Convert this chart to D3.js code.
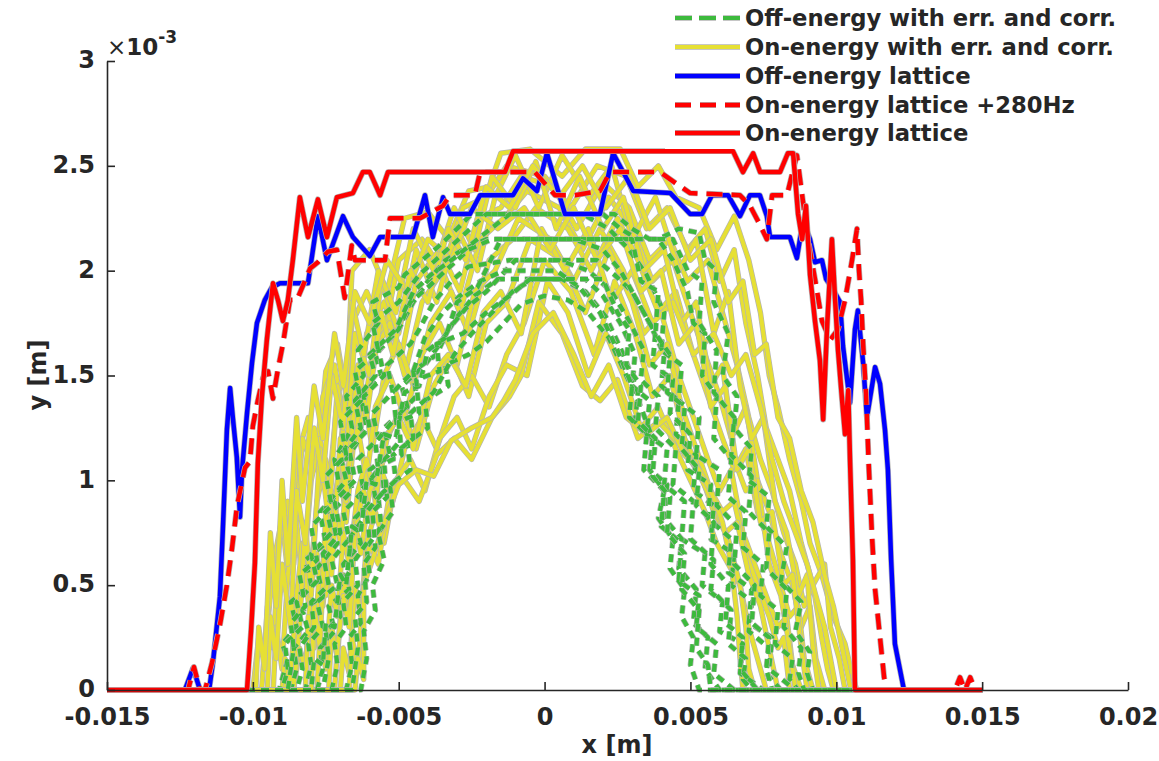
<!DOCTYPE html>
<html>
<head>
<meta charset="utf-8">
<script src="https://cdn.jsdelivr.net/npm/d3@7"></script>
<style>
  html, body { margin: 0; padding: 0; background: #fff; }
  svg text { font-family: "DejaVu Sans", sans-serif; font-weight: bold; fill: #262626; }
</style>
</head>
<body>
<svg id="chart" width="1159" height="761"></svg>
<script>
//Data (all values in mm, axis shows metres)
const xTicks = [-15, -10, -5, 0, 5, 10, 15, 20];
const xTickLabels = ['-0.015', '-0.01', '-0.005', '0', '0.005', '0.01', '0.015', '0.02'];
const yTicks = [0, 0.5, 1, 1.5, 2, 2.5, 3];
const yTickLabels = ['0', '0.5', '1', '1.5', '2', '2.5', '3'];
const SCAN_LIMIT = 15; // rays scanned out to +-15 mm at y = 0

const seriesNames = [
  'Off-energy with err. and corr.',
  'On-energy with err. and corr.',
  'Off-energy lattice',
  'On-energy lattice +280Hz',
  'On-energy lattice'
];

// Off-energy, with errors and correction (one array per seed)
const offEnergyErr = [
  [[-9.1,0],[-8.8,0.15],[-9.0,0.22],[-8.5,0.3],[-8.7,0.42],[-8.0,0.5],[-8.2,0.62],[-7.5,0.7],[-7.7,0.85],[-7.0,0.95],[-7.2,1.1],[-6.6,1.25],[-6.8,1.4],[-6.2,1.5],[-6.4,1.62],[-5.7,1.75],[-5.9,1.85],[-5.0,1.92],[-4.8,1.98],[-4.2,2.05],[-3.6,2.12],[-3.0,2.2],[-2.5,2.27],[2.0,2.27],[2.6,2.2],[3.2,2.15],[3.9,2.15],[4.6,2.2],[5.3,2.18],[5.5,2.05],[5.9,2.0],[5.8,1.85],[6.3,1.7],[6.1,1.5],[6.6,1.4],[6.5,1.25],[7.1,1.15],[7.0,1.0],[7.7,0.92],[7.6,0.78],[8.3,0.68],[8.1,0.52],[8.8,0.42],[8.6,0.28],[9.1,0.18],[9.0,0.08],[9.2,0]],
  [[-8.7,0],[-8.5,0.1],[-8.6,0.2],[-8.1,0.28],[-8.3,0.38],[-7.6,0.45],[-7.8,0.58],[-7.1,0.7],[-7.3,0.85],[-6.6,0.95],[-6.8,1.1],[-6.1,1.25],[-6.3,1.4],[-5.6,1.5],[-5.8,1.6],[-5.0,1.72],[-4.5,1.85],[-4.0,1.95],[-3.4,2.05],[-2.8,2.1],[-2.0,2.15],[3.9,2.15],[4.4,2.05],[4.9,1.9],[5.1,1.75],[5.5,1.7],[5.4,1.5],[5.9,1.4],[5.8,1.2],[6.4,1.1],[6.3,0.92],[6.9,0.85],[6.8,0.68],[7.5,0.6],[7.4,0.45],[8.0,0.38],[7.9,0.22],[8.5,0.15],[8.4,0.05],[8.7,0]],
  [[-8.2,0],[-8.0,0.12],[-8.1,0.22],[-7.6,0.3],[-7.8,0.42],[-7.1,0.5],[-7.3,0.62],[-6.7,0.72],[-6.9,0.85],[-6.2,0.95],[-6.4,1.1],[-5.7,1.2],[-5.9,1.32],[-5.2,1.42],[-5.4,1.55],[-4.6,1.65],[-4.3,1.72],[-3.8,1.85],[-3.2,1.95],[-2.6,2.02],[-1.2,2.05],[1.8,2.05],[2.4,1.98],[3.0,1.9],[3.6,1.75],[4.1,1.6],[4.0,1.45],[4.6,1.38],[4.5,1.22],[5.2,1.12],[5.1,0.95],[5.8,0.88],[5.7,0.72],[6.5,0.65],[6.4,0.5],[7.1,0.42],[7.0,0.28],[7.7,0.2],[7.6,0.08],[8.1,0]],
  [[-7.8,0],[-7.6,0.1],[-7.7,0.2],[-7.2,0.28],[-7.4,0.4],[-6.7,0.48],[-6.9,0.6],[-6.3,0.7],[-6.5,0.82],[-5.8,0.92],[-6.0,1.05],[-5.3,1.12],[-5.5,1.25],[-4.7,1.35],[-4.9,1.45],[-4.1,1.55],[-3.6,1.65],[-3.0,1.78],[-2.4,1.88],[-1.6,1.96],[1.4,1.96],[2.0,1.88],[2.6,1.75],[3.1,1.6],[3.0,1.45],[3.6,1.38],[3.5,1.22],[4.2,1.15],[4.1,0.98],[4.8,0.9],[4.7,0.72],[5.5,0.65],[5.4,0.5],[6.1,0.42],[6.0,0.28],[6.8,0.22],[6.7,0.08],[7.5,0]],
  [[-6.3,0],[-6.1,0.15],[-6.2,0.28],[-5.8,0.38],[-5.9,0.5],[-5.5,0.62],[-5.7,0.75],[-5.2,0.85],[-5.3,0.98],[-4.6,1.05],[-4.7,1.18],[-4.0,1.25],[-4.1,1.38],[-3.3,1.45],[-3.4,1.55],[-2.6,1.6],[-2.0,1.66],[-1.4,1.75],[-0.8,1.84],[0,1.88],[0.8,1.86],[1.5,1.8],[2.2,1.68],[2.8,1.5],[3.3,1.35],[3.7,1.2],[3.6,1.05],[4.1,0.95],[3.9,0.82],[4.4,0.72],[4.3,0.58],[4.8,0.48],[4.7,0.35],[5.1,0.25],[5.0,0.12],[5.3,0]],
  [[-6.8,0],[-6.6,0.12],[-6.7,0.25],[-6.3,0.32],[-6.4,0.45],[-6.0,0.55],[-6.1,0.68],[-5.6,0.78],[-5.7,0.92],[-5.1,1.0],[-5.2,1.12],[-4.5,1.2],[-4.6,1.32],[-3.8,1.42],[-3.1,1.6],[-2.5,1.7],[-1.8,1.8],[-1.1,1.9],[-0.4,1.96],[0.6,1.96],[1.4,1.9],[2.1,1.78],[2.7,1.6],[3.2,1.42],[3.1,1.28],[3.7,1.2],[3.6,1.05],[4.2,0.98],[4.1,0.82],[4.7,0.72],[4.6,0.58],[5.2,0.48],[5.1,0.32],[5.6,0.25],[5.5,0.1],[6.0,0]],
  [[-7.3,0],[-7.1,0.12],[-7.2,0.22],[-6.8,0.3],[-6.9,0.42],[-6.4,0.5],[-6.5,0.62],[-6.0,0.72],[-6.1,0.85],[-5.5,0.95],[-5.6,1.08],[-5.0,1.18],[-5.1,1.3],[-4.4,1.4],[-4.5,1.52],[-3.7,1.6],[-3.3,1.72],[-2.7,1.82],[-2.0,1.9],[-1.0,2.05],[0.5,2.05],[1.5,2.0],[2.3,1.9],[2.9,1.76],[3.4,1.62],[3.3,1.48],[3.9,1.4],[3.8,1.25],[4.5,1.15],[4.4,0.98],[5.1,0.9],[5.0,0.72],[5.8,0.62],[5.7,0.48],[6.4,0.38],[6.3,0.22],[6.9,0.15],[6.8,0.05],[7.1,0]],
  [[-8.5,0],[-8.3,0.1],[-8.4,0.2],[-7.9,0.3],[-8.0,0.42],[-7.4,0.5],[-7.6,0.65],[-7.0,0.75],[-7.2,0.9],[-6.5,1.0],[-6.7,1.15],[-6.0,1.25],[-6.2,1.4],[-5.5,1.5],[-5.7,1.62],[-5.0,1.72],[-4.6,1.85],[-4.0,1.92],[-3.4,2.0],[-2.6,2.1],[-1.8,2.15],[1.0,2.15],[2.0,2.1],[2.6,2.0],[3.2,1.85],[3.8,1.7],[3.7,1.55],[4.4,1.48],[4.3,1.32],[5.0,1.22],[4.9,1.05],[5.7,0.98],[5.6,0.82],[6.4,0.72],[6.3,0.56],[7.1,0.48],[7.0,0.32],[7.8,0.25],[7.7,0.1],[8.6,0]],
  [[-7.6,0],[-7.4,0.15],[-7.5,0.28],[-7.0,0.35],[-7.1,0.48],[-6.6,0.58],[-6.7,0.72],[-6.2,0.82],[-6.3,0.95],[-5.7,1.05],[-5.8,1.18],[-5.1,1.3],[-5.2,1.42],[-4.5,1.52],[-4.1,1.68],[-3.5,1.8],[-2.9,1.88],[-2.2,1.95],[-1.4,2.0],[0.4,2.0],[1.2,1.92],[1.9,1.8],[2.5,1.62],[3.0,1.45],[2.9,1.3],[3.5,1.22],[3.4,1.05],[4.1,0.95],[4.0,0.78],[4.7,0.7],[4.6,0.52],[5.3,0.45],[5.2,0.3],[5.9,0.22],[5.8,0.08],[6.5,0]],
  [[-9.0,0],[-8.8,0.1],[-8.9,0.22],[-8.3,0.3],[-8.5,0.42],[-7.8,0.52],[-8.0,0.65],[-7.3,0.75],[-7.5,0.88],[-6.8,1.0],[-7.0,1.12],[-6.3,1.25],[-6.5,1.38],[-5.8,1.5],[-6.0,1.6],[-5.1,1.72],[-4.5,1.9],[-3.9,1.98],[-3.1,2.06],[-2.3,2.15],[-1.2,2.27],[1.3,2.27],[2.2,2.2],[2.9,2.1],[3.5,1.98],[4.1,1.8],[4.0,1.62],[4.7,1.55],[4.6,1.38],[5.3,1.3],[5.2,1.12],[6.0,1.05],[5.9,0.88],[6.6,0.78],[6.5,0.6],[7.2,0.5],[7.1,0.32],[7.7,0.25],[7.6,0.1],[7.8,0]],
  [[-8.0,0],[-7.9,0.15],[-7.6,0.12],[-7.5,0.32],[-7.2,0.3],[-7.0,0.55],[-6.8,0.5],[-6.6,0.78],[-6.3,0.75],[-6.1,1.0],[-5.8,0.98],[-5.5,1.22],[-5.1,1.2],[-4.8,1.42],[-4.3,1.45],[-4.0,1.62],[-3.4,1.68],[-3.0,1.85],[-2.3,1.92],[-1.5,2.15],[3.0,2.15],[3.3,1.95],[3.9,1.9],[3.8,1.7],[4.3,1.6],[4.2,1.42],[4.8,1.35],[4.7,1.15],[5.3,1.05],[5.2,0.88],[5.8,0.8],[5.7,0.6],[6.3,0.5],[6.2,0.32],[6.8,0.25],[6.7,0.1],[7.3,0]],
  [[-6.6,0],[-6.4,0.2],[-6.5,0.35],[-6.1,0.42],[-6.2,0.6],[-5.8,0.68],[-5.9,0.85],[-5.4,0.92],[-5.5,1.08],[-4.9,1.12],[-5.0,1.28],[-4.3,1.32],[-4.4,1.48],[-3.6,1.52],[-3.7,1.65],[-2.8,1.7],[-2.0,1.8],[-1.2,1.88],[-0.5,1.96],[2.0,1.96],[2.5,1.8],[2.9,1.72],[2.8,1.55],[3.3,1.45],[3.2,1.28],[3.8,1.2],[3.7,1.02],[4.3,0.92],[4.2,0.75],[4.8,0.65],[4.7,0.48],[5.3,0.38],[5.2,0.2],[5.6,0.12],[5.7,0]],
  [[-8.8,0],[-8.6,0.2],[-8.7,0.32],[-8.2,0.4],[-8.4,0.55],[-7.8,0.62],[-8.0,0.78],[-7.3,0.88],[-7.5,1.02],[-6.8,1.12],[-7.0,1.28],[-6.3,1.38],[-6.5,1.52],[-5.7,1.62],[-5.9,1.75],[-5.0,1.85],[-4.3,1.98],[-3.5,2.08],[-2.7,2.18],[-2.0,2.27],[2.4,2.27],[3.0,2.2],[3.6,2.15],[4.4,2.15],[4.9,2.0],[5.4,1.95],[5.3,1.75],[5.9,1.62],[5.8,1.42],[6.5,1.3],[6.4,1.12],[7.1,1.02],[7.0,0.85],[7.7,0.75],[7.6,0.58],[8.3,0.48],[8.2,0.3],[8.8,0.2],[8.7,0.08],[8.9,0]]
];

// On-energy, with errors and correction (one array per seed)
const onEnergyErr = [
  [[-10.0,0],[-9.8,0.25],[-9.6,0.15],[-9.3,0.6],[-9.0,0.82],[-8.8,0.55],[-8.5,1.1],[-8.1,1.3],[-7.8,1.05],[-7.5,1.52],[-7.1,1.65],[-6.8,1.4],[-6.6,2.0],[-6.0,2.1],[-5.4,1.9],[-4.8,2.25],[-4.0,2.28],[-3.3,2.15],[-2.6,2.38],[-1.9,2.4],[-1.5,2.56],[-0.5,2.58],[0.6,2.45],[1.4,2.58],[2.6,2.58],[3.2,2.4],[3.9,2.5],[4.5,2.35],[5.3,2.3],[5.9,2.1],[6.5,2.26],[7.0,2.05],[7.4,1.8],[7.7,1.5],[8.0,1.35],[8.4,1.1],[8.8,0.9],[9.1,0.7],[9.5,0.55],[9.9,0.35],[10.3,0.22],[10.5,0.1],[10.7,0]],
  [[-9.7,0],[-9.5,0.4],[-9.3,0.2],[-9.1,0.7],[-8.8,0.9],[-8.6,0.6],[-8.3,1.2],[-7.9,1.05],[-7.6,1.4],[-7.2,1.55],[-6.9,1.3],[-6.6,1.75],[-6.1,1.9],[-5.5,1.7],[-5.0,2.05],[-4.2,2.15],[-3.5,2.0],[-2.8,2.3],[-2.0,2.35],[-1.3,2.5],[0.0,2.45],[0.9,2.3],[1.8,2.5],[2.8,2.45],[3.5,2.2],[4.2,2.3],[4.9,2.1],[5.5,2.2],[6.0,1.95],[6.5,2.1],[6.9,1.75],[7.3,1.5],[7.6,1.25],[8.0,1.1],[8.4,0.95],[8.8,0.7],[9.2,0.5],[9.6,0.6],[9.8,0.3],[10.1,0.15],[10.3,0]],
  [[-9.3,0],[-9.2,0.3],[-9.0,0.1],[-8.8,0.55],[-8.5,0.8],[-8.3,0.5],[-8.0,1.0],[-7.7,1.2],[-7.4,0.95],[-7.1,1.4],[-6.8,1.55],[-6.4,1.3],[-6.1,1.7],[-5.5,1.85],[-4.9,1.6],[-4.4,1.95],[-3.6,2.1],[-2.9,1.9],[-2.3,2.25],[-1.5,2.3],[-0.8,2.45],[0.3,2.4],[1.1,2.2],[2.0,2.42],[2.9,2.3],[3.6,2.05],[4.3,2.15],[4.9,1.95],[5.6,2.05],[6.1,1.8],[6.6,1.55],[7.0,1.3],[7.4,1.1],[7.8,0.95],[8.2,0.75],[8.6,0.6],[8.9,0.4],[9.2,0.5],[9.5,0.25],[9.7,0.1],[9.9,0]],
  [[-9.0,0],[-8.9,0.15],[-8.7,0.08],[-8.5,0.45],[-8.3,0.7],[-8.1,0.42],[-7.8,0.9],[-7.5,1.1],[-7.2,0.85],[-6.9,1.3],[-6.6,1.5],[-6.3,1.25],[-5.9,1.6],[-5.3,1.75],[-4.8,1.5],[-4.2,1.85],[-3.5,2.0],[-2.9,1.8],[-2.2,2.15],[-1.4,2.25],[-0.6,2.38],[0.5,2.3],[1.3,2.1],[2.2,2.35],[3.0,2.2],[3.7,1.95],[4.4,2.05],[5.0,1.8],[5.5,1.6],[6.0,1.4],[6.4,1.2],[6.9,1.35],[7.3,1.0],[7.7,0.85],[8.1,0.65],[8.5,0.5],[8.8,0.3],[9.1,0.4],[9.3,0.15],[9.6,0]],
  [[-8.6,0],[-8.4,0.2],[-8.2,0.1],[-8.0,0.5],[-7.8,0.65],[-7.6,0.4],[-7.3,0.85],[-7.0,1.05],[-6.8,0.8],[-6.5,1.25],[-6.2,1.4],[-5.9,1.15],[-5.5,1.5],[-5.0,1.65],[-4.5,1.45],[-3.9,1.75],[-3.2,1.9],[-2.6,1.7],[-1.9,2.05],[-1.1,2.15],[-0.3,2.3],[0.8,2.2],[1.6,2.0],[2.5,2.25],[3.2,2.05],[3.9,1.8],[4.5,1.9],[5.1,1.6],[5.6,1.4],[6.1,1.2],[6.5,1.05],[6.9,1.15],[7.3,0.85],[7.7,0.7],[8.1,0.5],[8.4,0.35],[8.7,0.4],[8.9,0.15],[9.2,0]],
  [[-8.2,0],[-8.1,0.35],[-7.9,0.2],[-7.7,0.6],[-7.5,0.45],[-7.2,0.9],[-7.0,0.7],[-6.7,1.1],[-6.4,1.25],[-6.1,1.0],[-5.8,1.35],[-5.3,1.5],[-4.8,1.3],[-4.2,1.6],[-3.6,1.75],[-3.0,1.55],[-2.4,1.9],[-1.7,2.0],[-0.9,2.25],[0.2,2.15],[1.0,1.95],[1.9,2.2],[2.7,2.0],[3.4,1.7],[4.0,1.8],[4.6,1.5],[5.1,1.3],[5.6,1.1],[6.0,0.95],[6.4,1.05],[6.8,0.75],[7.2,0.6],[7.6,0.45],[8.0,0.3],[8.3,0.35],[8.5,0.12],[8.8,0]],
  [[-7.8,0],[-7.7,0.25],[-7.5,0.1],[-7.3,0.5],[-7.1,0.35],[-6.9,0.75],[-6.7,0.6],[-6.4,0.95],[-6.1,1.1],[-5.8,0.9],[-5.4,1.2],[-4.9,1.35],[-4.4,1.15],[-3.8,1.45],[-3.2,1.6],[-2.6,1.4],[-2.0,1.75],[-1.3,1.85],[-0.5,2.15],[0.6,2.05],[1.4,1.8],[2.2,2.1],[3.0,1.85],[3.6,1.55],[4.2,1.65],[4.7,1.35],[5.2,1.15],[5.7,0.95],[6.1,0.85],[6.5,0.9],[6.9,0.65],[7.3,0.5],[7.7,0.35],[8.0,0.2],[8.2,0.25],[8.4,0]],
  [[-7.4,0],[-7.3,0.3],[-7.1,0.15],[-6.9,0.55],[-6.7,0.4],[-6.5,0.8],[-6.3,0.65],[-6.0,0.95],[-5.6,1.05],[-5.2,0.9],[-4.8,1.15],[-4.2,1.3],[-3.7,1.15],[-3.1,1.4],[-2.5,1.5],[-1.9,1.35],[-1.3,1.6],[-0.7,1.75],[0.0,2.05],[0.9,1.9],[1.7,1.6],[2.4,1.95],[3.1,1.7],[3.7,1.4],[4.3,1.5],[4.8,1.2],[5.3,1.05],[5.8,0.85],[6.2,0.75],[6.6,0.8],[7.0,0.55],[7.4,0.4],[7.7,0.2],[8.0,0]],
  [[-7.0,0],[-6.9,0.2],[-6.7,0.08],[-6.5,0.5],[-6.3,0.35],[-6.1,0.7],[-5.8,0.85],[-5.5,0.7],[-5.1,1.0],[-4.6,1.1],[-4.1,0.95],[-3.6,1.2],[-3.0,1.3],[-2.5,1.15],[-1.9,1.4],[-1.3,1.55],[-0.6,1.5],[0.1,1.95],[0.8,1.8],[1.5,1.5],[2.1,1.7],[2.7,1.5],[3.3,1.25],[3.9,1.35],[4.5,1.15],[5.0,1.0],[5.5,0.85],[5.9,0.7],[6.3,0.6],[6.7,0.5],[7.0,0.3],[7.3,0.15],[7.6,0]],
  [[-6.7,0],[-6.6,0.25],[-6.4,0.1],[-6.2,0.5],[-6.0,0.7],[-5.7,0.6],[-5.3,0.95],[-4.8,1.0],[-4.3,0.9],[-3.7,1.12],[-3.1,1.2],[-2.5,1.1],[-1.8,1.3],[-1.2,1.4],[-0.8,1.5],[-0.2,1.85],[0.6,1.7],[1.3,1.45],[1.9,1.38],[2.5,1.48],[3.2,1.2],[3.9,1.28],[4.8,1.15],[5.4,1.0],[5.9,0.85],[6.3,0.72],[6.7,0.5],[6.9,0.3],[7.0,0.1],[7.2,0]],
  [[-6.5,0],[-6.4,0.15],[-6.2,0.05],[-6.2,0.5],[-5.9,0.62],[-5.5,0.8],[-5.0,0.98],[-4.4,1.05],[-3.8,1.02],[-3.2,1.19],[-2.5,1.25],[-1.8,1.3],[-1.4,1.38],[-1.0,1.48],[-0.4,1.7],[0.3,1.8],[1.0,1.6],[1.6,1.4],[2.2,1.55],[2.8,1.3],[3.5,1.22],[4.2,1.3],[4.8,1.12],[5.3,1.05],[5.7,0.95],[6.1,0.8],[6.4,0.6],[6.6,0.35],[6.7,0.15],[6.8,0]],
  [[-8.9,0],[-8.8,0.1],[-8.6,0.0],[-8.4,0.3],[-8.2,0.8],[-8.0,0.45],[-7.7,1.15],[-7.4,0.8],[-7.1,1.45],[-6.8,1.1],[-6.5,1.7],[-6.0,1.5],[-5.6,1.95],[-5.0,1.7],[-4.4,2.1],[-3.7,1.85],[-3.0,2.2],[-2.3,2.0],[-1.7,2.35],[-1.0,2.55],[-0.2,2.3],[0.6,2.55],[1.5,2.35],[2.3,2.5],[3.0,2.15],[3.8,2.35],[4.6,2.0],[5.2,2.15],[5.8,1.7],[6.3,1.9],[6.7,1.45],[7.1,1.2],[7.5,1.3],[7.9,0.9],[8.3,0.75],[8.7,0.45],[9.0,0.55],[9.2,0.2],[9.4,0]],
  [[-9.5,0],[-9.4,0.35],[-9.2,0.15],[-9.0,0.6],[-8.7,0.3],[-8.5,0.95],[-8.2,0.7],[-7.9,1.25],[-7.6,1.0],[-7.3,1.5],[-6.9,1.25],[-6.6,1.85],[-6.2,1.6],[-5.7,2.0],[-5.1,1.8],[-4.5,2.2],[-3.8,2.0],[-3.1,2.3],[-2.4,2.1],[-1.8,2.45],[-1.0,2.3],[-0.3,2.52],[0.4,2.2],[1.2,2.45],[2.0,2.2],[2.7,2.35],[3.4,2.0],[4.1,2.1],[4.7,1.75],[5.2,1.85],[5.7,1.45],[6.1,1.55],[6.5,1.1],[6.9,0.95],[7.3,1.0],[7.7,0.6],[8.1,0.45],[8.4,0.2],[8.6,0]],
  [[-7.2,0],[-7.1,0.2],[-6.9,0.45],[-6.7,0.3],[-6.5,0.75],[-6.2,0.95],[-5.9,0.8],[-5.5,1.2],[-5.0,1.3],[-4.5,1.15],[-3.9,1.5],[-3.3,1.6],[-2.7,1.45],[-2.1,1.8],[-1.5,1.9],[-0.8,1.7],[-0.1,2.2],[0.7,2.0],[1.5,2.2],[2.3,1.85],[3.0,2.0],[3.7,1.75],[4.4,1.85],[5.1,1.6],[5.8,1.7],[6.4,1.5],[6.9,1.6],[7.4,1.35],[7.8,1.1],[8.2,0.9],[8.6,0.75],[9.0,0.6],[9.3,0.45],[9.6,0.3],[9.8,0.15],[10.0,0]],
  [[-9.9,0],[-9.8,0.3],[-9.6,0.1],[-9.4,0.75],[-9.2,0.4],[-9.0,1.0],[-8.8,0.6],[-8.5,1.3],[-8.3,0.9],[-7.9,1.45],[-7.6,1.2],[-7.2,1.7],[-6.9,1.45],[-6.5,1.9],[-6.0,1.75],[-5.4,2.05],[-4.7,1.9],[-4.0,2.15],[-3.2,2.05],[-2.5,2.3],[-1.6,2.2],[-0.7,2.3],[0.2,2.1],[1.0,2.3],[1.8,2.05],[2.6,2.2],[3.3,1.9],[4.0,2.0],[4.6,1.65],[5.2,1.75],[5.7,1.35],[6.2,1.45],[6.6,1.05],[7.0,1.15],[7.4,0.8],[7.8,0.85],[8.2,0.5],[8.5,0.55],[8.8,0.2],[9.0,0]],
  [[-8.0,0],[-7.9,0.4],[-7.7,0.2],[-7.5,0.85],[-7.3,0.55],[-7.0,1.2],[-6.8,0.9],[-6.4,1.55],[-6.1,1.3],[-5.6,1.8],[-5.2,1.6],[-4.6,2.0],[-4.0,1.85],[-3.3,2.2],[-2.7,2.05],[-2.0,2.4],[-1.2,2.3],[-0.4,2.5],[0.5,2.35],[1.3,2.5],[2.1,2.3],[2.9,2.45],[3.6,2.2],[4.3,2.3],[5.0,2.05],[5.7,2.15],[6.3,1.85],[6.8,1.95],[7.2,1.6],[7.6,1.65],[8.0,1.3],[8.4,1.2],[8.8,0.95],[9.2,0.8],[9.6,0.55],[9.9,0.4],[10.2,0.2],[10.5,0]]
];

// Off-energy lattice (no errors)
const offEnergyLattice = [[-15,0],[-12.33,0],[-12.05,0.105],[-11.81,0],[-11.5,0],[-11.37,0.129],[-11.13,0.444],[-11.03,0.763],[-10.96,1.0],[-10.89,1.24],[-10.78,1.44],[-10.68,1.29],[-10.55,1.11],[-10.44,0.825],[-10.37,1.05],[-10.2,1.32],[-10.03,1.56],[-9.86,1.75],[-9.59,1.86],[-9.35,1.92],[-9.07,1.94],[-8.11,1.94],[-7.77,2.26],[-7.46,2.05],[-6.91,2.26],[-6.57,2.16],[-5.99,2.07],[-5.64,2.16],[-4.51,2.16],[-4.1,2.36],[-3.83,2.16],[-3.48,2.35],[-3.24,2.27],[-2.56,2.27],[-2.21,2.36],[-1.08,2.36],[-0.74,2.44],[-0.26,2.38],[0.08,2.56],[0.7,2.27],[1.9,2.27],[2.35,2.56],[3.04,2.38],[4.31,2.37],[4.99,2.27],[5.4,2.27],[5.74,2.36],[6.29,2.36],[6.7,2.26],[7.04,2.36],[7.38,2.36],[7.62,2.26],[7.73,2.16],[8.41,2.16],[8.65,2.06],[8.86,2.24],[9.1,2.15],[9.27,2.04],[9.51,2.05],[9.65,1.96],[9.89,1.91],[10.13,1.85],[10.23,1.64],[10.47,1.37],[10.64,1.72],[10.74,1.81],[10.92,1.56],[11.05,1.3],[11.33,1.54],[11.5,1.46],[11.67,1.24],[11.77,1.05],[11.88,0.62],[12.01,0.22],[12.32,0],[15,0]];

// On-energy lattice with +280 Hz RF shift
const onEnergy280Hz = [[-15,0],[-12.22,0],[-12.02,0.11],[-11.81,0],[-11.64,0],[-11.4,0.13],[-11.13,0.31],[-10.89,0.5],[-10.72,0.67],[-10.54,0.88],[-10.27,1.06],[-10.1,1.09],[-10.0,1.26],[-9.83,1.38],[-9.65,1.49],[-9.48,1.52],[-9.31,1.39],[-9.14,1.53],[-8.97,1.65],[-8.73,1.86],[-8.49,1.86],[-8.28,1.93],[-8.04,2.01],[-7.77,2.04],[-7.43,2.09],[-7.12,2.1],[-6.85,1.87],[-6.61,2.12],[-6.5,2.05],[-5.47,2.05],[-5.3,2.25],[-4.27,2.25],[-3.48,2.31],[-3.24,2.36],[-2.39,2.36],[-2.21,2.47],[-0.33,2.47],[0.36,2.36],[1.04,2.36],[1.9,2.38],[2.24,2.47],[3.96,2.47],[4.57,2.41],[4.99,2.37],[6.7,2.36],[7.04,2.31],[7.38,2.22],[7.62,2.15],[7.8,2.36],[8.31,2.36],[8.52,2.48],[8.65,2.55],[8.83,2.36],[9.03,2.15],[9.27,1.96],[9.51,1.76],[9.79,1.67],[10.06,1.72],[10.3,1.86],[10.54,2.05],[10.71,2.2],[10.78,2.0],[10.85,1.86],[10.92,1.65],[11.02,1.41],[11.12,1.05],[11.23,0.72],[11.33,0.48],[11.47,0.29],[11.64,0.06],[11.74,0],[14.07,0],[14.24,0.06],[14.41,0],[14.59,0.06],[14.76,0],[15,0]];

// On-energy lattice (no errors)
const onEnergyLattice = [[-15,0],[-10.2,0],[-10.06,0.286],[-9.93,0.606],[-9.83,1.08],[-9.69,1.4],[-9.52,1.67],[-9.31,1.94],[-9.14,1.86],[-8.97,1.76],[-8.8,1.86],[-8.63,2.05],[-8.39,2.35],[-8.11,2.16],[-7.77,2.34],[-7.46,2.16],[-7.12,2.35],[-6.57,2.37],[-6.23,2.47],[-5.99,2.47],[-5.64,2.36],[-5.37,2.47],[-1.36,2.47],[-1.08,2.57],[6.46,2.57],[6.8,2.47],[7.15,2.56],[7.39,2.47],[8.07,2.47],[8.34,2.56],[8.52,2.56],[8.69,2.27],[8.83,2.15],[8.96,2.31],[9.1,1.98],[9.27,1.76],[9.44,1.57],[9.55,1.29],[9.68,1.72],[9.85,2.15],[9.96,1.86],[10.06,1.62],[10.2,1.38],[10.3,1.22],[10.41,1.43],[10.47,1.1],[10.57,0.62],[10.64,0],[15,0]];

//Styles
const STYLES = [
  { color: '#3dba3d', width: 4.2, dash: '8,6' },
  { color: '#e6e034', width: 4,   dash: null },
  { color: '#0000ff', width: 4.5, dash: null },
  { color: '#ff0000', width: 4.5, dash: '16,9' },
  { color: '#ff0000', width: 4.5, dash: null }
];
const HALO = '#b4b4b4';
const AXIS_COLOR = '#262626';

//Scales
const svg = d3.select('#chart');
const x = d3.scaleLinear().domain([-15, 20]).range([107, 1128]);
const y = d3.scaleLinear().domain([0, 3]).range([690, 61]);
const line = d3.line().x(d => x(d[0])).y(d => y(d[1]));

// pad seed curves with the flat y = 0 part of the scan
const padScan = pts => [[-SCAN_LIMIT, 0], ...pts, [SCAN_LIMIT, 0]];

const plot = svg.append('g');

const drawCurve = (pts, st) => {
  plot.append('path')
    .attr('d', line(pts))
    .attr('fill', 'none')
    .attr('stroke', HALO)
    .attr('stroke-width', st.width + 1.4)
    .attr('stroke-dasharray', st.dash)
    .attr('stroke-linejoin', 'round');
  plot.append('path')
    .attr('d', line(pts))
    .attr('fill', 'none')
    .attr('stroke', st.color)
    .attr('stroke-width', st.width)
    .attr('stroke-dasharray', st.dash)
    .attr('stroke-linejoin', 'round');
};

// yellow seeds sit underneath the green ones
onEnergyErr.forEach(c => drawCurve(padScan(c), STYLES[1]));
offEnergyErr.forEach(c => drawCurve(padScan(c), STYLES[0]));
drawCurve(offEnergyLattice, STYLES[2]);
drawCurve(onEnergy280Hz, STYLES[3]);
drawCurve(onEnergyLattice, STYLES[4]);

//Axes
const gx = svg.append('g')
  .attr('transform', `translate(0,${y(0)})`)
  .call(d3.axisBottom(x)
    .tickValues(xTicks)
    .tickFormat((d, i) => xTickLabels[i])
    .tickSize(-8).tickSizeOuter(0).tickPadding(18));

const gy = svg.append('g')
  .attr('transform', `translate(${x(-15)},0)`)
  .call(d3.axisLeft(y)
    .tickValues(yTicks)
    .tickFormat((d, i) => yTickLabels[i])
    .tickSize(-8).tickSizeOuter(0).tickPadding(12));

[gx, gy].forEach(g => {
  g.attr('font-size', 24);
  g.select('.domain').attr('stroke', AXIS_COLOR).attr('stroke-width', 1.6);
  g.selectAll('.tick line').attr('stroke', AXIS_COLOR).attr('stroke-width', 1.6);
});
gy.selectAll('.tick text').attr('dy', '0.28em');

// axis titles
svg.append('text')
  .attr('x', 617).attr('y', 753)
  .attr('text-anchor', 'middle')
  .attr('font-size', 24)
  .text('x [m]');

svg.append('text')
  .attr('transform', 'translate(46,375) rotate(-90)')
  .attr('text-anchor', 'middle')
  .attr('font-size', 24)
  .text('y [m]');

// exponent
const expo = svg.append('text')
  .attr('x', 107).attr('y', 55)
  .attr('font-size', 23);
expo.append('tspan').attr('font-weight', 'normal').text('\u00d7');
expo.append('tspan').text('10');
expo.append('tspan').attr('font-size', 17).attr('dy', -12).text('-3');

//Legend
const legend = svg.append('g');
legend.append('rect')
  .attr('x', 665).attr('y', 2)
  .attr('width', 463).attr('height', 147)
  .attr('fill', '#fff');

const legendRowY = [18, 47, 76, 105, 133];
seriesNames.forEach((name, i) => {
  const st = STYLES[i];
  const ly = legendRowY[i];
  const dash = i === 0 ? '17,7' : st.dash;
  legend.append('line')
    .attr('x1', 675).attr('x2', 740)
    .attr('y1', ly).attr('y2', ly)
    .attr('stroke', HALO)
    .attr('stroke-width', st.width + 1.4)
    .attr('stroke-dasharray', dash);
  legend.append('line')
    .attr('x1', 675).attr('x2', 740)
    .attr('y1', ly).attr('y2', ly)
    .attr('stroke', st.color)
    .attr('stroke-width', st.width)
    .attr('stroke-dasharray', dash);
  legend.append('text')
    .attr('x', 745).attr('y', ly)
    .attr('dy', '0.36em')
    .attr('font-size', 22.7)
    .text(name);
});
</script>
</body>
</html>
